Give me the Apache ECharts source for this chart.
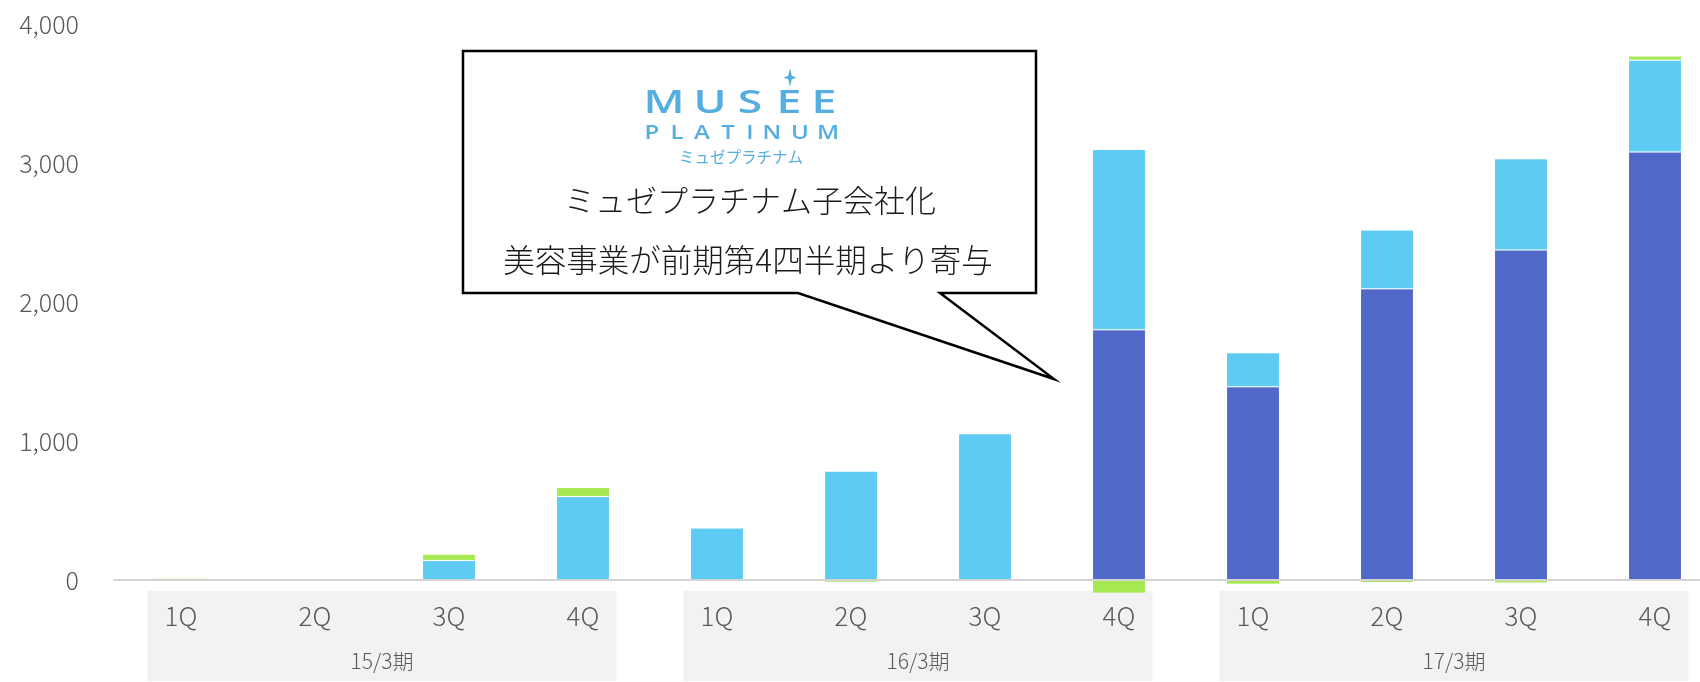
<!DOCTYPE html>
<html>
<head>
<meta charset="utf-8">
<script src="https://cdn.jsdelivr.net/npm/echarts@6/dist/echarts.min.js"></script>
<style>
  html, body { margin: 0; padding: 0; background: #ffffff; }
  #chart { width: 1700px; height: 682px; }
</style>
</head>
<body>
<div id="chart"></div>
<script>
// Quarterly segment values (百万円), three fiscal years
const quarters = ['1Q', '2Q', '3Q', '4Q', '1Q', '2Q', '3Q', '4Q', '1Q', '2Q', '3Q', '4Q'];
const fiscalYears = ['15/3期', '16/3期', '17/3期'];
const beautyBiz = [0, 0, 0, 0, 0, 0, 0, 1800, 1390, 2095, 2375, 3080];
const coreBiz = [0, 0, 140, 600, 375, 782, 1053, 1298, 245, 423, 655, 660];
const otherBiz = [12, 7, 45, 65, 0, -17, 0, -95, -30, -18, -22, 30];
const yTicks = [0, 1000, 2000, 3000, 4000];

const JP_FONT = '"Noto Sans CJK JP", "Noto Sans", sans-serif';
const LABEL_GREY = '#595959';
const LOGO_BLUE = '#55ade0';

const chart = echarts.init(document.getElementById('chart'), null, { renderer: 'canvas' });

// unique keys per quarter so repeated "1Q".."4Q" stay separate categories
const quarterKeys = quarters.map((q, i) => fiscalYears[Math.floor(i / 4)] + ' ' + q);

function barSeries(name, values, color) {
  return {
    name: name,
    type: 'bar',
    stack: 'total',
    barWidth: 53,
    clip: false,          // negative parts hang below the zero baseline
    data: values,
    itemStyle: { color: color, borderColor: 'rgba(255,255,255,0.12)', borderWidth: 1 },
    emphasis: { disabled: true },
    z: 2
  };
}

chart.setOption({
  animation: false,
  backgroundColor: '#ffffff',
  grid: {
    left: 114, right: -22, top: 24, bottom: 102,
    containLabel: false, outerBoundsMode: 'none'
  },
  xAxis: [
    {
      type: 'category',
      data: quarterKeys,
      position: 'bottom',
      z: 5,
      axisLine: { onZero: false, lineStyle: { color: '#d4d4d4', width: 2 } },
      axisTick: { show: false },
      axisLabel: {
        interval: 0,
        margin: 24,
        color: LABEL_GREY,
        fontFamily: JP_FONT,
        fontWeight: 300,
        fontSize: 26,
        lineHeight: 24,
        formatter: (v, i) => quarters[i]
      },
      splitLine: { show: false }
    },
    {
      type: 'category',
      data: fiscalYears,
      position: 'bottom',
      offset: 70,
      z: 5,
      axisLine: { show: false, onZero: false },
      axisTick: { show: false },
      axisLabel: {
        interval: 0,
        margin: 0,
        color: LABEL_GREY,
        fontFamily: JP_FONT,
        fontWeight: 300,
        fontSize: 21,
        lineHeight: 22
      },
      splitLine: { show: false }
    }
  ],
  yAxis: {
    type: 'value',
    min: 0,
    max: 4000,
    interval: 1000,
    axisLine: { show: false },
    axisTick: { show: false },
    splitLine: { show: false },
    axisLabel: {
      margin: 35,
      color: LABEL_GREY,
      fontFamily: JP_FONT,
      fontWeight: 300,
      fontSize: 25,
      formatter: v => (yTicks.indexOf(v) >= 0 ? v.toLocaleString('en-US') : '')
    }
  },
  series: [
    barSeries('美容事業', beautyBiz, '#5068c8'),
    barSeries('既存事業', coreBiz, '#5ecbf2'),
    barSeries('その他', otherBiz, '#a6e852')
  ]
});

// Grey panels behind each fiscal-year group of quarter labels
const band = chart.convertToPixel({ xAxisIndex: 0 }, 1) - chart.convertToPixel({ xAxisIndex: 0 }, 0);
const zeroY = chart.convertToPixel({ yAxisIndex: 0 }, 0);
const panels = fiscalYears.map((fy, k) => {
  const cx = chart.convertToPixel({ xAxisIndex: 1 }, k);
  const w = band * 3.5;
  return {
    type: 'rect',
    z: -1,
    silent: true,
    shape: { x: cx - w / 2, y: zeroY + 11, width: w, height: 90 },
    style: { fill: '#f2f2f2' }
  };
});

// Callout: speech box with tail, logo and caption
const logoMain = [['M', 664], ['U', 710], ['S', 750], ['E', 789], ['E', 824]];
const logoSub = [['P', 652], ['L', 677], ['A', 702], ['T', 728], ['I', 750], ['N', 772], ['U', 800], ['M', 828]];
const LOGO_FONT = '"Open Sans", Lato, sans-serif';

const callout = [
  {
    type: 'polygon',
    z: 10,
    shape: {
      points: [[463, 51], [1036, 51], [1036, 293], [940, 293], [1054, 379], [798, 293], [463, 293]]
    },
    style: { fill: '#ffffff', stroke: '#000000', lineWidth: 2.5, lineJoin: 'miter' }
  },
  {
    // four-pointed sparkle above the first E
    type: 'polygon',
    z: 11,
    x: 790, y: 77.5,
    shape: { points: [[0, -9], [1.8, -1.8], [6.5, 0], [1.8, 1.8], [0, 9], [-1.8, 1.8], [-6.5, 0], [-1.8, -1.8]] },
    style: { fill: LOGO_BLUE }
  }
];
logoMain.forEach(([ch, x]) => callout.push({
  type: 'text', z: 11, x: x, y: 104, scaleX: 1.35,
  style: { text: ch, fill: LOGO_BLUE, fontFamily: LOGO_FONT, fontWeight: 600, fontSize: 33, align: 'center', verticalAlign: 'middle' }
}));
logoSub.forEach(([ch, x]) => callout.push({
  type: 'text', z: 11, x: x, y: 133, scaleX: 1.2,
  style: { text: ch, fill: LOGO_BLUE, fontFamily: LOGO_FONT, fontWeight: 600, fontSize: 20, align: 'center', verticalAlign: 'middle' }
}));
callout.push(
  {
    type: 'text', z: 11, x: 741, y: 157,
    style: { text: 'ミュゼプラチナム', fill: LOGO_BLUE, fontFamily: JP_FONT, fontSize: 15.5, align: 'center', verticalAlign: 'middle' }
  },
  {
    type: 'text', z: 11, x: 750, y: 200,
    style: { text: 'ミュゼプラチナム子会社化', fill: '#1a1a1a', fontFamily: JP_FONT, fontWeight: 300, fontSize: 31, align: 'center', verticalAlign: 'middle' }
  },
  {
    type: 'text', z: 11, x: 748, y: 260,
    style: { text: '美容事業が前期第4四半期より寄与', fill: '#1a1a1a', fontFamily: JP_FONT, fontWeight: 300, fontSize: 31.5, align: 'center', verticalAlign: 'middle' }
  }
);

chart.setOption({ graphic: { elements: panels.concat(callout) } });
</script>
</body>
</html>
